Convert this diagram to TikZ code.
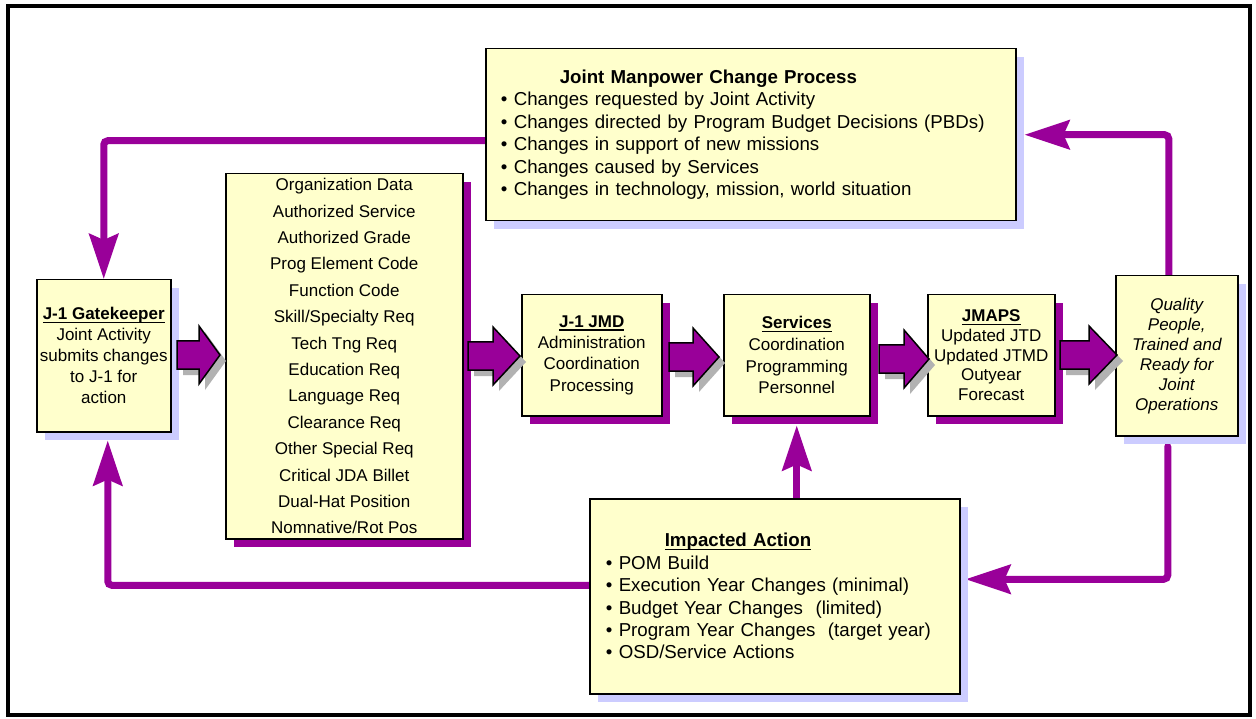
\documentclass[tikz,border=0pt]{standalone}
\usepackage{fontspec}
\setmainfont{Liberation Sans}
\usetikzlibrary{arrows.meta,shadows,backgrounds,calc}
\definecolor{pur}{HTML}{990099}
\definecolor{lav}{HTML}{CCCCFF}
\definecolor{boxy}{HTML}{FFFFCC}
\definecolor{ash}{HTML}{B2B2B2}
\newcommand\hd[1]{{\bfseries\setbox0=\hbox{#1}\rlap{\rule[-3.3pt]{\wd0}{1.3pt}}\box0}}
\newcommand\bul{\makebox[13pt][l]{•}}
\newcommand\BlkArrow[4]{%
 \fill[ash] (#1+6,#4-8) -- (#2+6,#4-8) -- (#2+6,#4-23) -- (#3+6,#4+6) -- (#2+6,#4+35) -- (#2+6,#4+20) -- (#1+6,#4+20) -- cycle;
 \draw[blockarrow] (#1,#4-14) -- (#2,#4-14) -- (#2,#4-29) -- (#3,#4) -- (#2,#4+29) -- (#2,#4+14) -- (#1,#4+14) -- cycle;}
\tikzset{
 box/.style={draw=black, line width=1.5pt, fill=boxy, anchor=north west, inner sep=0pt, align=center, font=\fontsize{17}{21}\selectfont},
 pshadow/.style={drop shadow={shadow xshift=8pt, shadow yshift=-8pt, fill=pur, opacity=1}},
 lshadow/.style={drop shadow={shadow xshift=8pt, shadow yshift=-8pt, fill=lav, opacity=1}},
 conn/.style={draw=pur, line width=7pt, rounded corners=4pt, -{Stealth[length=45pt,width=29pt,inset=6pt]}},
 blockarrow/.style={fill=pur, draw=black, line width=1.5pt, line join=miter},
}
\begin{document}
\begin{tikzpicture}[x=1pt,y=-1pt]
\useasboundingbox (0,0) rectangle (1256,719);

\node[box, lshadow, minimum width=134pt, minimum height=152pt] (gk) at (36,279)
 {\hd{J-1 Gatekeeper}\\Joint Activity\\submits changes\\to J-1 for\\action};

\node[box, pshadow, minimum width=237pt, minimum height=365pt, font=\fontsize{17}{26.4}\selectfont] (data) at (225,173)
 {Organization Data\\Authorized Service\\Authorized Grade\\Prog Element Code\\Function Code\\Skill/Specialty Req\\Tech Tng Req\\Education Req\\Language Req\\Clearance Req\\Other Special Req\\Critical JDA Billet\\Dual-Hat Position\\Nomnative/Rot Pos};

\node[box, pshadow, minimum width=140pt, minimum height=121pt, font=\fontsize{17}{21.3}\selectfont] (jmd) at (521,294)
 {\hd{J-1 JMD}\\Administration\\Coordination\\Processing};

\node[box, pshadow, minimum width=146pt, minimum height=121pt, font=\fontsize{17}{21.7}\selectfont] (sv) at (723,294)
 {\hd{Services}\\Coordination\\Programming\\Personnel};

\node[box, pshadow, minimum width=127pt, minimum height=121pt, font=\fontsize{17}{19.8}\selectfont] (jmaps) at (927,294)
 {\hd{JMAPS}\\Updated JTD\\Updated JTMD\\Outyear\\Forecast};

\node[box, lshadow, minimum width=122pt, minimum height=160pt, font=\fontsize{17}{20}\selectfont\itshape] (q) at (1115,275)
 {Quality\\People,\\Trained and\\Ready for\\Joint\\Operations};

\node[box, lshadow, minimum width=530pt, minimum height=172pt, inner xsep=15pt, text width=500pt, align=left, font=\fontsize{18.7}{22.4}\selectfont] (jm) at (485,48)
 {\hspace*{59pt}\textbf{Joint Manpower Change Process}\\
  \bul Changes requested by Joint Activity\\
  \bul Changes directed by Program Budget Decisions (PBDs)\\
  \bul Changes in support of new missions\\
  \bul Changes caused by Services\\
  \bul Changes in technology, mission, world situation};

\node[box, lshadow, minimum width=370pt, minimum height=195pt, inner xsep=16pt, text width=338pt, align=left, font=\fontsize{18.7}{22.4}\selectfont] (imp) at (589,498)
 {\hspace*{59pt}\hd{Impacted Action}\\
  \bul POM Build\\
  \bul Execution Year Changes (minimal)\\
  \bul Budget Year Changes\ \ (limited)\\
  \bul Program Year Changes\ \ (target year)\\
  \bul OSD/Service Actions};

\begin{scope}[on background layer]
 \fill[white] (0,0) rectangle (1256,719);
 \draw[conn] ([yshift=-6pt]jm.west) -| (gk.north);
 \draw[conn] ([xshift=-8pt]q.north) |- ([xshift=8pt]jm.east);
 \draw[conn, line cap=round] ([xshift=-9pt,yshift=-10pt]q.south) |- ([xshift=5pt,yshift=17pt]imp.east);
 \draw[conn] ([yshift=11pt]imp.west) -| ([xshift=4pt,yshift=-8pt]gk.south);
 \draw[conn] (imp.north -| sv.south) -- ([yshift=-9pt]sv.south);
\end{scope}

\BlkArrow{177}{199}{220}{355}
\BlkArrow{468}{493}{520}{356}
\BlkArrow{669}{693}{719}{357}
\BlkArrow{879}{904}{929}{359}
\BlkArrow{1060}{1089}{1117}{355}

\draw[line width=4pt] (8,6) rectangle (1250,715);
\end{tikzpicture}
\end{document}
